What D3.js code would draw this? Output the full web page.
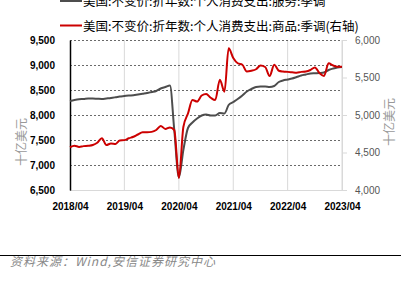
<!DOCTYPE html>
<html lang="zh">
<head>
<meta charset="UTF-8">
<title>美国个人消费支出</title>
<script src="https://d3js.org/d3.v7.min.js"></script>
<style>
  body { margin: 0; background: #fff; }
  svg { display: block; background: #fff; }
  .tick text { font-family: "Liberation Sans", Arial, sans-serif; font-size: 10px; fill: #000; }
  .cjk { font-family: "Noto Sans CJK SC", sans-serif; }
</style>
</head>
<body>
<div id="chart"></div>
<script>
  // monthly, 2018/04 .. 2023/04
  const startMonth = new Date(2018, 3, 1);
  const services = [
    8280, 8300, 8315, 8320, 8330, 8330, 8325, 8320, 8330, 8340, 8355, 8370,
    8380, 8390, 8395, 8410, 8425, 8440, 8460, 8480, 8530, 8560, 8590, 7700,
    6750, 7300, 7740, 7850, 7930, 7990, 8010, 7990, 7990, 8040, 8030, 8200,
    8260, 8320, 8390, 8470, 8520, 8560, 8570, 8570, 8560, 8580, 8660, 8690,
    8710, 8730, 8760, 8790, 8810, 8830, 8835, 8840, 8850, 8900, 8930, 8950,
    8960
  ];
  const goods = [
    4570, 4590, 4575, 4585, 4590, 4600, 4630, 4690, 4600, 4620, 4615, 4660,
    4665, 4690, 4710, 4740, 4770, 4770, 4775, 4800, 4855, 4815, 4835, 4800,
    4160, 4840, 5020, 5200, 5180, 5260, 5280, 5230, 5200, 5470, 5310, 5890,
    5760, 5690, 5670, 5580, 5590, 5610, 5660, 5640, 5520, 5670, 5590, 5580,
    5575, 5570, 5565, 5575, 5580, 5600, 5635, 5560, 5520, 5690, 5660, 5645,
    5645
  ];
  const leftTicks = [6500, 7000, 7500, 8000, 8500, 9000, 9500];
  const rightTicks = [4000, 4500, 5000, 5500, 6000];
  const yearTicks = ["2018/04", "2019/04", "2020/04", "2021/04", "2022/04", "2023/04"];
  const seriesNames = [
    "美国:不变价:折年数:个人消费支出:服务:季调",
    "美国:不变价:折年数:个人消费支出:商品:季调(右轴)"
  ];
  const unitLabel = "十亿美元";
  const sourceText = "资料来源：Wind,安信证券研究中心";

  const W = 401, H = 286;
  const plot = { left: 70, right: 342, top: 40, bottom: 190 };

  const svg = d3.select("#chart").append("svg")
    .attr("width", W).attr("height", H);

  const parse = d3.timeParse("%Y/%m");
  const dates = services.map((d, i) => d3.timeMonth.offset(startMonth, i));

  const x = d3.scaleTime()
    .domain([parse(yearTicks[0]), parse(yearTicks[yearTicks.length - 1])])
    .range([plot.left, plot.right]);
  const yL = d3.scaleLinear().domain([6500, 9500]).range([plot.bottom, plot.top]);
  const yR = d3.scaleLinear().domain([4000, 6000]).range([plot.bottom, plot.top]);

  // vertical grid
  svg.append("g")
    .selectAll("line")
    .data(yearTicks.slice(1))
    .join("line")
    .attr("x1", d => x(parse(d))).attr("x2", d => x(parse(d)))
    .attr("y1", plot.top).attr("y2", plot.bottom)
    .attr("stroke", "#d9d9d9").attr("stroke-width", 1);

  // dashed horizontal grid
  svg.append("g")
    .selectAll("line")
    .data(leftTicks)
    .join("line")
    .attr("x1", plot.left).attr("x2", plot.right)
    .attr("y1", d => Math.round(yL(d)) + 0.5).attr("y2", d => Math.round(yL(d)) + 0.5)
    .attr("stroke", "#444").attr("stroke-width", 0.8)
    .attr("stroke-dasharray", "2,2");

  // bottom axis
  const xAxis = svg.append("g")
    .attr("transform", `translate(0,${plot.bottom})`)
    .call(d3.axisBottom(x)
      .tickValues(yearTicks.map(parse))
      .tickFormat(d3.timeFormat("%Y/%m"))
      .tickSize(0).tickPadding(13));
  xAxis.select(".domain").attr("stroke", "#d9d9d9");
  xAxis.selectAll(".tick text").style("font-weight", "bold");

  // left axis
  const lAxis = svg.append("g")
    .attr("transform", `translate(${plot.left},0)`)
    .call(d3.axisLeft(yL).tickValues(leftTicks).tickFormat(d3.format(","))
      .tickSize(0).tickPadding(15));
  lAxis.select(".domain").attr("stroke", "#000").attr("stroke-width", 1.5);
  lAxis.selectAll(".tick text").style("font-weight", "bold");

  // right axis
  const rAxis = svg.append("g")
    .attr("transform", `translate(${plot.right},0)`)
    .call(d3.axisRight(yR).tickValues(rightTicks).tickFormat(d3.format(","))
      .tickSizeInner(5).tickSizeOuter(0).tickPadding(8));
  rAxis.select(".domain").attr("stroke", "#d9d9d9");
  rAxis.selectAll(".tick line").attr("stroke", "#d9d9d9");
  rAxis.selectAll(".tick text").style("fill", "#555");

  // lines
  const lineL = d3.line().curve(d3.curveMonotoneX).x((d, i) => x(dates[i])).y(d => yL(d));
  const lineR = d3.line().curve(d3.curveMonotoneX).x((d, i) => x(dates[i])).y(d => yR(d));

  svg.append("path").datum(services)
    .attr("d", lineL).attr("fill", "none")
    .attr("stroke", "#4d4d4d").attr("stroke-width", 2);
  svg.append("path").datum(goods)
    .attr("d", lineR).attr("fill", "none")
    .attr("stroke", "#cc0000").attr("stroke-width", 2);

  // legend
  const legendColors = ["#4d4d4d", "#cc0000"];
  const legend = svg.append("g");
  seriesNames.forEach((name, i) => {
    const cy = 1 + i * 24.5;
    legend.append("line")
      .attr("x1", 60).attr("x2", 82).attr("y1", cy).attr("y2", cy)
      .attr("stroke", legendColors[i]).attr("stroke-width", 2);
    legend.append("text").attr("class", "cjk")
      .attr("x", 83).attr("y", cy + 5)
      .style("font-size", "12.5px").attr("fill", "#000")
      .text(name);
  });

  // axis unit labels
  svg.append("text").attr("class", "cjk")
    .attr("transform", `translate(26,142) rotate(-90)`)
    .attr("text-anchor", "middle")
    .style("font-size", "12px").attr("fill", "#999")
    .text(unitLabel);
  svg.append("text").attr("class", "cjk")
    .attr("transform", `translate(394,122) rotate(-90)`)
    .attr("text-anchor", "middle")
    .style("font-size", "12px").attr("fill", "#999")
    .text(unitLabel);

  // source
  svg.append("line")
    .attr("x1", 0).attr("x2", W).attr("y1", 255.5).attr("y2", 255.5)
    .attr("stroke", "#000").attr("stroke-width", 1);
  svg.append("text").attr("class", "cjk")
    .attr("x", 10).attr("y", 266)
    .style("font-size", "12px").style("font-style", "italic")
    .style("letter-spacing", "1px")
    .attr("fill", "#888")
    .text(sourceText);
</script>
</body>
</html>
